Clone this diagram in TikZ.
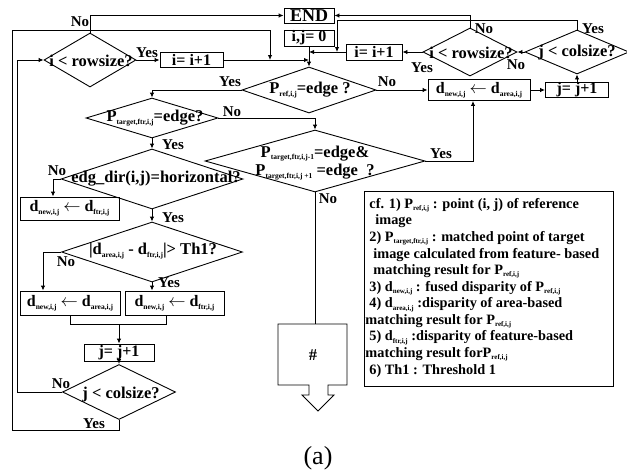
\documentclass[tikz,border=0pt]{standalone}
\usepackage{fontspec}
\setmainfont{Liberation Serif}
\usetikzlibrary{arrows.meta,shapes.geometric,calc}
\newcommand\sbx[1]{\raisebox{-0.35ex}{\fontsize{7.5pt}{7.5pt}\selectfont #1}}
\newcommand\sbn[1]{\raisebox{-0.35ex}{\fontsize{7pt}{7pt}\selectfont #1}}
\begin{document}
\begin{tikzpicture}[x=1pt,y=-1pt,
  line width=0.9pt,
  arr/.style={-{Latex[length=5pt,width=4.5pt]}},
  box/.style={draw, rectangle, inner sep=0pt, font=\fontsize{16pt}{16pt}\selectfont\bfseries},
  dia/.style={draw, diamond, inner sep=0pt},
  txt/.style={font=\fontsize{16.5pt}{16.5pt}\selectfont\bfseries, inner sep=0pt},
  lab/.style={font=\fontsize{15pt}{15pt}\selectfont\bfseries, inner sep=0pt},
  note/.style={font=\fontsize{14.3pt}{14.3pt}\selectfont\bfseries, inner sep=0pt, anchor=west},
]
\useasboundingbox (0,0) rectangle (627,474);

% ---------- boxes ----------
\node[box, minimum width=50pt, minimum height=15pt, font=\fontsize{18pt}{18pt}\selectfont\bfseries] (end) at (309,15.5) {END};
\node[box, minimum width=50pt, minimum height=16pt] (ij0) at (309,38) {i,j= 0};
\node[box, minimum width=63pt, minimum height=15pt] (incL) at (191.5,60) {i= i+1};
\node[box, minimum width=56pt, minimum height=16pt] (incR) at (374,52) {i= i+1};
\node[box, minimum width=102pt, minimum height=21pt] (dA) at (479,90) {d\sbx{new,i,j} $\leftarrow$ d\sbx{area,i,j}};
\node[box, minimum width=63pt, minimum height=14pt] (jincT) at (577,90) {j= j+1};
\node[box, minimum width=99pt, minimum height=23pt] (dF1) at (69.5,208.5) {d\sbx{new,i,j} $\leftarrow$ d\sbx{ftr,i,j}};
\node[box, minimum width=100pt, minimum height=24pt] (dA2) at (70,303) {d\sbx{new,i,j} $\leftarrow$ d\sbx{area,i,j}};
\node[box, minimum width=99pt, minimum height=24pt] (dF2) at (174.5,303) {d\sbx{new,i,j} $\leftarrow$ d\sbx{ftr,i,j}};
\node[box, minimum width=70pt, minimum height=17pt] (jincB) at (119,352.5) {j= j+1};

% ---------- diamonds ----------
\node[dia, minimum width=92pt, minimum height=54pt] (dRowL) at (90,60) {};
\node[txt] (dRowLt) at (91,61) {i < rowsize?};
\node[dia, minimum width=134pt, minimum height=46pt] (dPref) at (309,90) {};
\node[txt] (dPreft) at (310,90) {P\sbx{ref,i,j}=edge ?};
\node[dia, minimum width=132pt, minimum height=40pt] (dPtar) at (152,118) {};
\node[txt] (dPtart) at (155,118) {P\sbx{target,ftr,i,j}=edge?};
\node[dia, minimum width=220pt, minimum height=62pt] (dBig) at (315,161) {};
\node[txt, align=center] (dBigt) at (315,163) {P\sbx{target,ftr,i,j-1}=edge\&\\[2pt]P\sbx{target,ftr,i,j +1} =edge\ \ ?};
\node[dia, minimum width=182pt, minimum height=60pt] (dEdg) at (152,179) {};
\node[txt] (dEdgt) at (156,179) {edg\_dir(i,j)=horizontal?};
\node[dia, minimum width=181pt, minimum height=60pt] (dTh) at (152,252) {};
\node[txt] (dTht) at (153,251) {|d\sbx{area,i,j} - d\sbx{ftr,i,j}|> Th1?};
\node[dia, minimum width=113pt, minimum height=55pt] (dColL) at (119,392) {};
\node[txt] (dColLt) at (121,395) {j < colsize?};
\node[dia, minimum width=94pt, minimum height=48pt] (dRowR) at (470,52) {};
\node[txt] (dRowRt) at (471,53) {i < rowsize?};
\node[dia, minimum width=104pt, minimum height=44pt] (dColR) at (577,52) {};
\node[txt] (dColRt) at (577,53) {j < colsize?};

% ---------- helper coordinates ----------
\coordinate (oBL) at (12,430);
\coordinate (oTL) at (12,30);
\coordinate (jn1) at (270,60);
\coordinate (iTL) at (17,60);
\coordinate (r1) at (337,20);
\coordinate (r2) at (337,52);
\coordinate (mL) at (70,324);
\coordinate (mR) at (166,324);
\coordinate (mC) at (119,324);
\coordinate (hashTop) at (315,324);

% ---------- connectors ----------
\draw[arr] (dRowL.north) |- (end.west);
\draw[arr] (dRowL.east) -- (incL.west);
\draw[arr] (incL.east) -- (ij0.south |- incL.east);
\draw[arr] (ij0.south) -- (dPref.north);
\draw[arr] (incR.west) -- (ij0.south |- incR.west);
\draw[arr] (dColL.south) |- (oBL) -- (oTL) -| (jn1);
\draw[arr] (dColL.west) -| (iTL) -- (dRowL.west);
\draw[arr] (dColR.north) |- (r1) -- (r2);
\draw[arr] (dRowR.north) |- (end.east);
\draw[arr] (dRowR.west) -- (incR.east);
\draw[arr] (dColR.west) -- (dRowR.east);
\draw[arr] (jincT.north) -- (dColR.south);
\draw[arr] (dA.east) -- (jincT.west);
\draw[arr] (dPref.east) -- (dA.west);
\draw[arr] (dPref.west) -| (dPtar.north);
\draw[arr] (dPtar.east) -| (dBig.north);
\draw[arr] (dBig.east) -| ([xshift=-6pt]dA.south);
\draw (dBig.south) -- (hashTop);
\draw[arr] (dPtar.south) -- (dEdg.north);
\draw[arr] (dEdg.west) -| ([xshift=-16.5pt]dF1.north);
\draw[arr] (dEdg.south) -- (dTh.north);
\draw[arr] (dTh.west) -| ([xshift=-27pt]dA2.north);
\draw[arr] (dTh.south) -- (dTh.south |- dF2.north);
\draw (dA2.south) -- (mL) -- (mR) -- (mR |- dF2.south);
\draw[arr] (mC) -- (jincB.north);
\draw[arr] (jincB.south) -- (dColL.north);

% ---------- Yes / No labels ----------
\node[lab] (l1) at (80,22) {No};
\node[lab] (l2) at (147,53) {Yes};
\node[lab] (l3) at (230,82) {Yes};
\node[lab] (l4) at (387,82) {No};
\node[lab] (l5) at (232,112) {No};
\node[lab] (l6) at (173,145) {Yes};
\node[lab] (l7) at (441,154) {Yes};
\node[lab] (l8) at (328,199) {No};
\node[lab] (l9) at (57,171) {No};
\node[lab] (l10) at (173,218) {Yes};
\node[lab] (l11) at (66,262) {No};
\node[lab] (l12) at (169,283) {Yes};
\node[lab] (l13) at (61,384) {No};
\node[lab] (l14) at (94,424) {Yes};
\node[lab] (l15) at (484,29) {No};
\node[lab] (l16) at (422,68) {Yes};
\node[lab] (l17) at (516,65) {No};
\node[lab] (l18) at (593,29) {Yes};

% ---------- # block arrow ----------
\draw (278,324) -- (347,324) -- (347,385) -- (328,385) -- (328,395) -- (334,395)
      -- (318,411) -- (302,395) -- (309,395) -- (309,385) -- (278,385) -- cycle;
\node[txt] (hashT) at (313,355) {\#};

% ---------- note box ----------
\node[draw, rectangle, minimum width=249pt, minimum height=195pt, inner sep=0pt] (notebox) at (488.5,288.5) {};
\node[note] (n1) at (369,205) {cf. 1) P\sbn{ref,i,j} : point (i, j) of reference};
\node[note] (n2) at (375,221.6) {image};
\node[note] (n3) at (369,238.2) {2) P\sbn{target,ftr,i,j} : matched point of target};
\node[note] (n4) at (373,254.8) {image calculated from feature- based};
\node[note] (n5) at (373,271.4) {matching result for P\sbn{ref,i,j}};
\node[note] (n6) at (369,288) {3) d\sbn{new,i,j} : fused disparity of P\sbn{ref,i,j}};
\node[note] (n7) at (369,304.6) {4) d\sbn{area,i,j} :disparity of area-based};
\node[note] (n8) at (365,321.2) {matching result for P\sbn{ref,i,j}};
\node[note] (n9) at (369,337.8) {5) d\sbn{ftr,i,j} :disparity of feature-based};
\node[note] (n10) at (365,354.4) {matching result forP\sbn{ref,i,j}};
\node[note] (n11) at (369,371) {6) Th1 : Threshold 1};

% ---------- caption ----------
\node[font=\fontsize{26pt}{26pt}\selectfont, inner sep=0pt] (cap) at (318,458) {(a)};
\end{tikzpicture}
\end{document}
